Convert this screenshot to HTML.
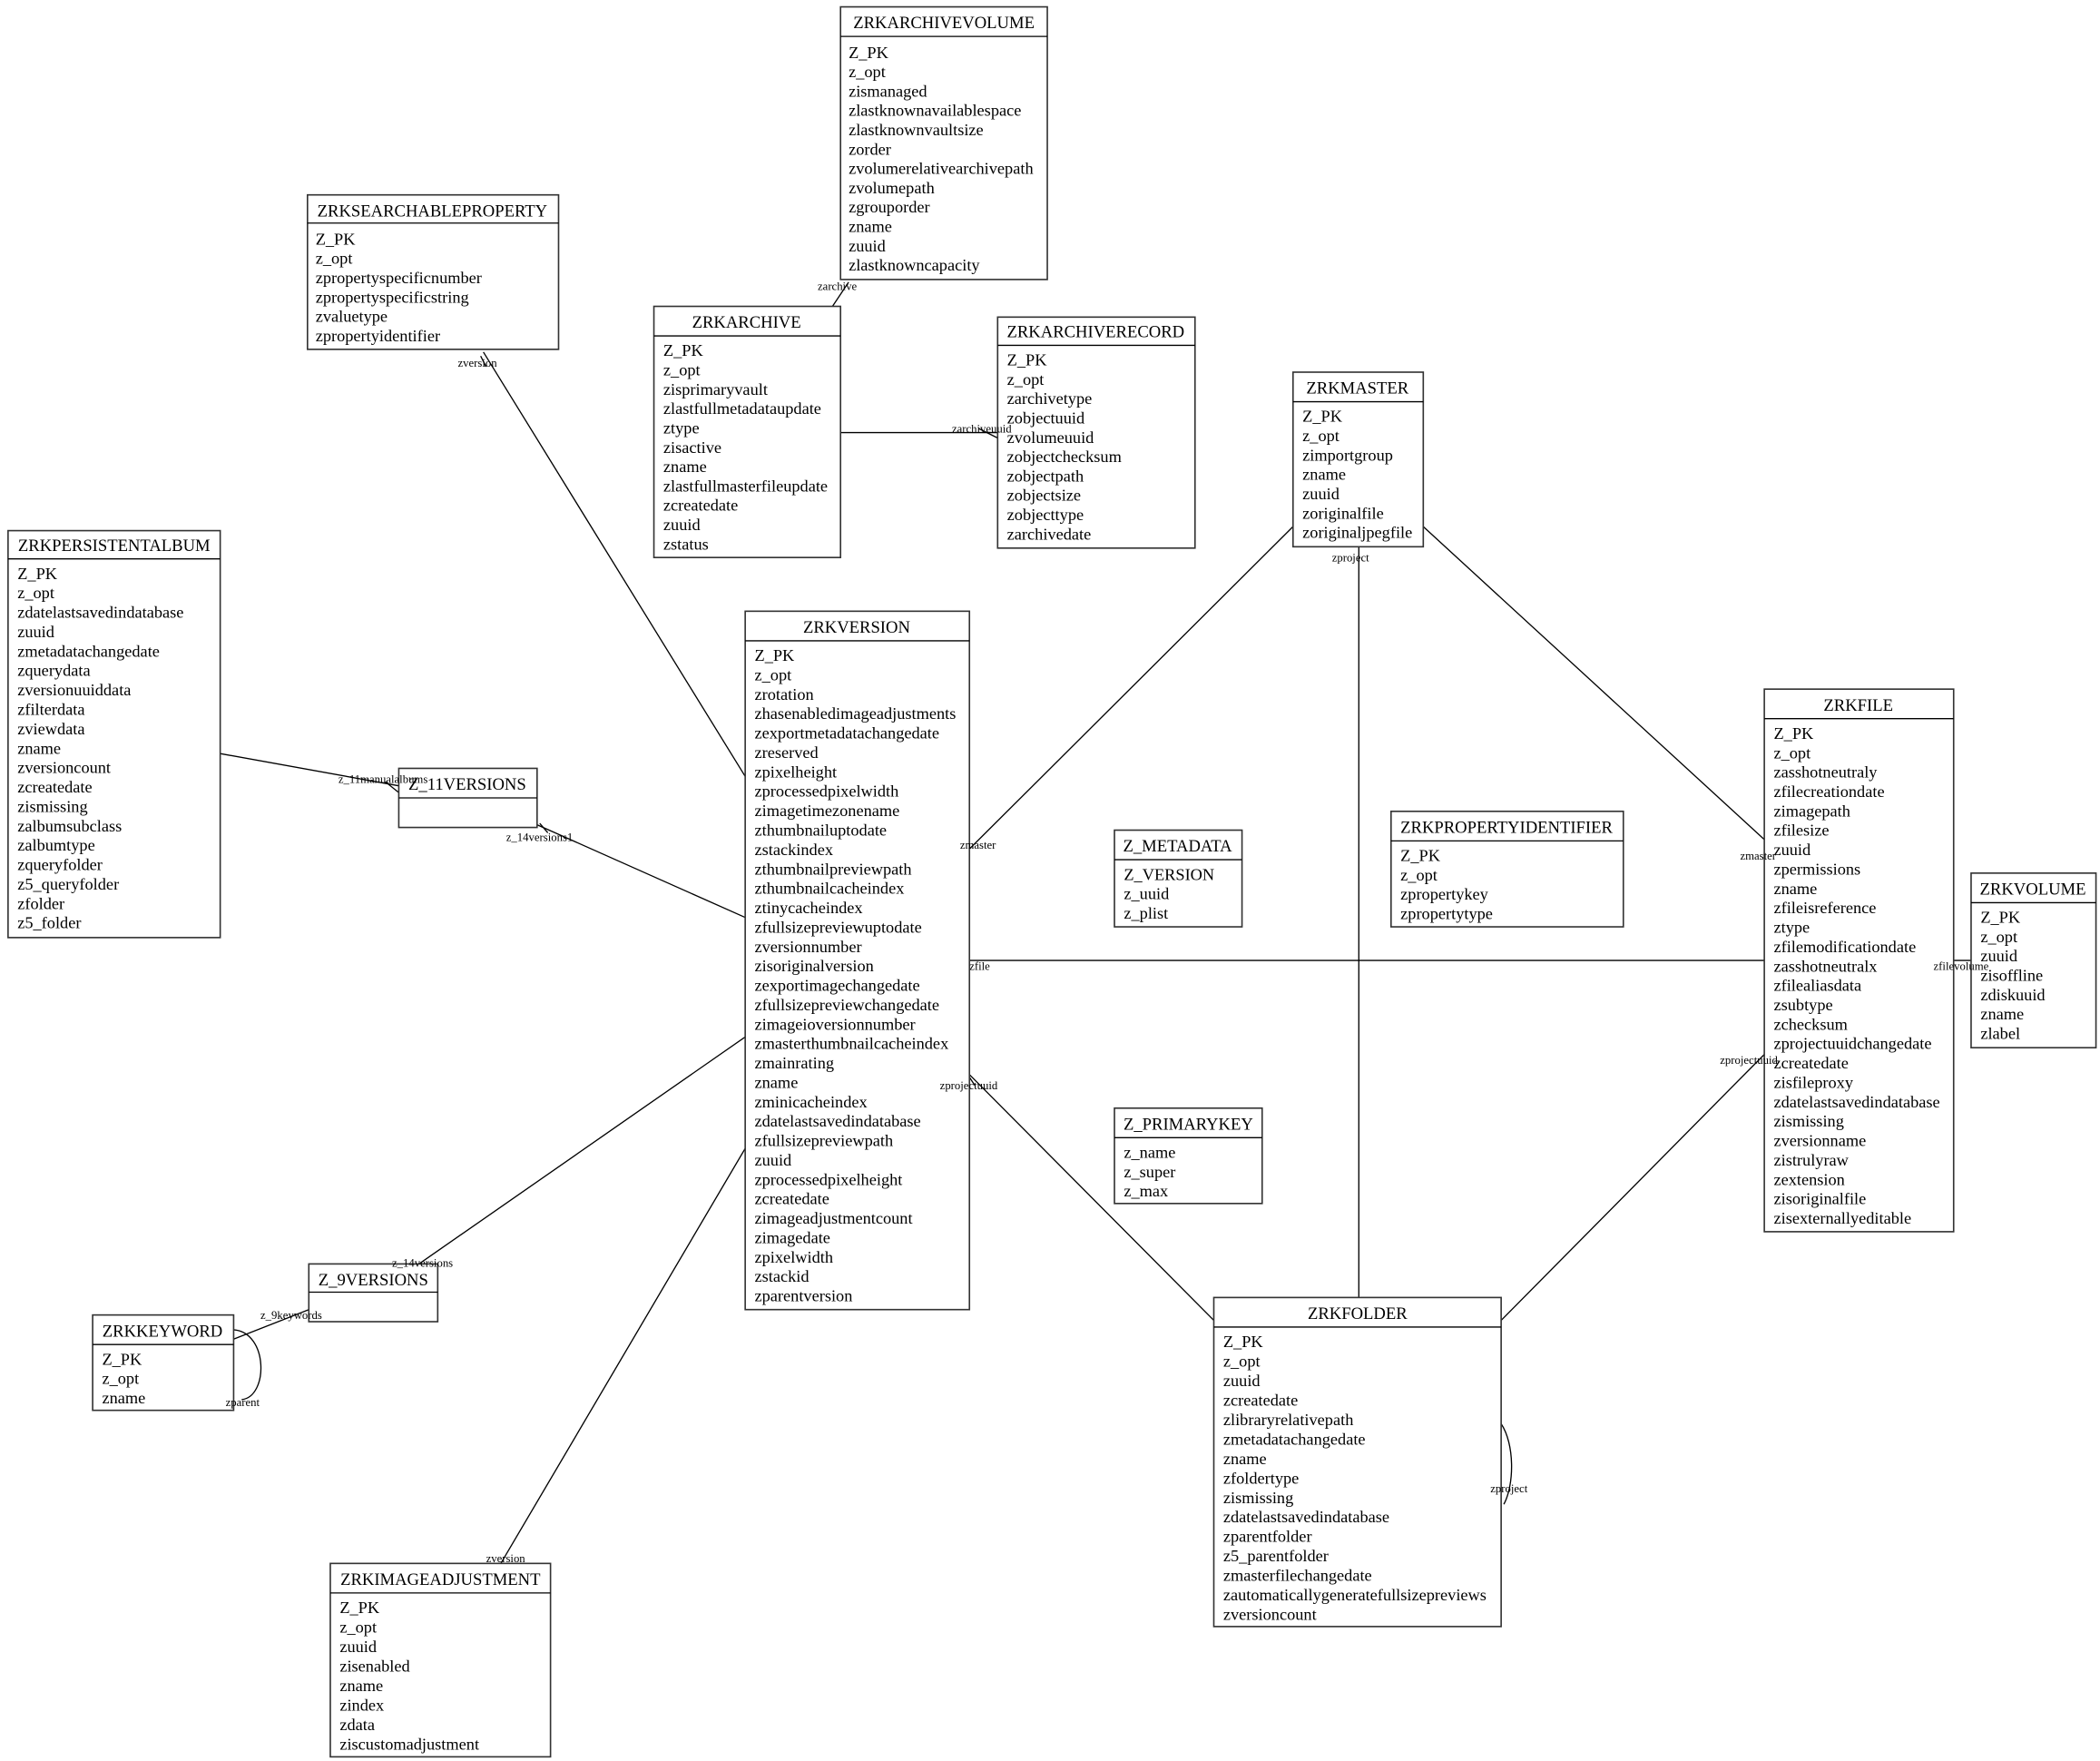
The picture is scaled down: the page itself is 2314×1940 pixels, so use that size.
<!DOCTYPE html>
<html><head><meta charset="utf-8"><style>
html,body{margin:0;padding:0;background:#fff;}
svg{display:block}
text{font-family:"Liberation Serif",serif;fill:#000}
.t{font-size:12.6px}
.f{font-size:12.4px}
.l{font-size:8.6px}
rect{fill:#fff;stroke:#333;stroke-width:1.1}
line,path{stroke:#000;stroke-width:0.9;fill:none}
</style></head><body>
<svg width="2314" height="1940" viewBox="0 0 1564 1311" xmlns="http://www.w3.org/2000/svg">
<!-- connectors -->
<line x1="620" y1="228" x2="632" y2="210"/>
<line x1="626" y1="322" x2="743" y2="322"/>
<line x1="360" y1="262" x2="555" y2="578"/>
<line x1="164" y1="561" x2="297" y2="585"/>
<line x1="400" y1="614" x2="555" y2="683"/>
<line x1="312" y1="941" x2="555" y2="772"/>
<line x1="174" y1="997" x2="230" y2="975"/>
<path d="M174 990 C200 992 200 1040 180 1042"/>
<line x1="373" y1="1164" x2="555" y2="855"/>
<line x1="963" y1="392" x2="722" y2="632"/>
<line x1="1060" y1="392" x2="1314" y2="625"/>
<line x1="1012" y1="407" x2="1012" y2="966"/>
<line x1="1314" y1="715" x2="722" y2="715"/>
<line x1="1455" y1="715" x2="1468" y2="715"/>
<line x1="722" y1="800" x2="904" y2="983"/>
<line x1="1118" y1="983" x2="1314" y2="785"/>
<path d="M1118 1060 C1128 1075 1128 1105 1120 1120"/>
<path d="M729 319 L743 326"/>
<path d="M287 582 L297 590"/>
<path d="M402 613 L408 620"/>
<path d="M358 265 L362 273"/>
<path d="M722 802 L726 808"/>

<!-- ZRKARCHIVEVOLUME -->
<rect x="626" y="5" width="154" height="203"/><line x1="626" y1="27" x2="780" y2="27"/>
<text class="t" x="703" y="21" text-anchor="middle">ZRKARCHIVEVOLUME</text>
<text class="f" y="43"><tspan x="632">Z_PK</tspan><tspan x="632" dy="14.4">z_opt</tspan><tspan x="632" dy="14.4">zismanaged</tspan><tspan x="632" dy="14.4">zlastknownavailablespace</tspan><tspan x="632" dy="14.4">zlastknownvaultsize</tspan><tspan x="632" dy="14.4">zorder</tspan><tspan x="632" dy="14.4">zvolumerelativearchivepath</tspan><tspan x="632" dy="14.4">zvolumepath</tspan><tspan x="632" dy="14.4">zgrouporder</tspan><tspan x="632" dy="14.4">zname</tspan><tspan x="632" dy="14.4">zuuid</tspan><tspan x="632" dy="14.4">zlastknowncapacity</tspan></text>

<!-- ZRKSEARCHABLEPROPERTY -->
<rect x="229" y="145" width="187" height="115"/><line x1="229" y1="166" x2="416" y2="166"/>
<text class="t" x="322" y="161" text-anchor="middle">ZRKSEARCHABLEPROPERTY</text>
<text class="f" y="182"><tspan x="235">Z_PK</tspan><tspan x="235" dy="14.4">z_opt</tspan><tspan x="235" dy="14.4">zpropertyspecificnumber</tspan><tspan x="235" dy="14.4">zpropertyspecificstring</tspan><tspan x="235" dy="14.4">zvaluetype</tspan><tspan x="235" dy="14.4">zpropertyidentifier</tspan></text>

<!-- ZRKARCHIVE -->
<rect x="487" y="228" width="139" height="187"/><line x1="487" y1="250" x2="626" y2="250"/>
<text class="t" x="556" y="244" text-anchor="middle">ZRKARCHIVE</text>
<text class="f" y="265"><tspan x="494">Z_PK</tspan><tspan x="494" dy="14.4">z_opt</tspan><tspan x="494" dy="14.4">zisprimaryvault</tspan><tspan x="494" dy="14.4">zlastfullmetadataupdate</tspan><tspan x="494" dy="14.4">ztype</tspan><tspan x="494" dy="14.4">zisactive</tspan><tspan x="494" dy="14.4">zname</tspan><tspan x="494" dy="14.4">zlastfullmasterfileupdate</tspan><tspan x="494" dy="14.4">zcreatedate</tspan><tspan x="494" dy="14.4">zuuid</tspan><tspan x="494" dy="14.4">zstatus</tspan></text>

<!-- ZRKARCHIVERECORD -->
<rect x="743" y="236" width="147" height="172"/><line x1="743" y1="257" x2="890" y2="257"/>
<text class="t" x="816" y="251" text-anchor="middle">ZRKARCHIVERECORD</text>
<text class="f" y="272"><tspan x="750">Z_PK</tspan><tspan x="750" dy="14.4">z_opt</tspan><tspan x="750" dy="14.4">zarchivetype</tspan><tspan x="750" dy="14.4">zobjectuuid</tspan><tspan x="750" dy="14.4">zvolumeuuid</tspan><tspan x="750" dy="14.4">zobjectchecksum</tspan><tspan x="750" dy="14.4">zobjectpath</tspan><tspan x="750" dy="14.4">zobjectsize</tspan><tspan x="750" dy="14.4">zobjecttype</tspan><tspan x="750" dy="14.4">zarchivedate</tspan></text>

<!-- ZRKMASTER -->
<rect x="963" y="277" width="97" height="130"/><line x1="963" y1="299" x2="1060" y2="299"/>
<text class="t" x="1011" y="293" text-anchor="middle">ZRKMASTER</text>
<text class="f" y="314"><tspan x="970">Z_PK</tspan><tspan x="970" dy="14.4">z_opt</tspan><tspan x="970" dy="14.4">zimportgroup</tspan><tspan x="970" dy="14.4">zname</tspan><tspan x="970" dy="14.4">zuuid</tspan><tspan x="970" dy="14.4">zoriginalfile</tspan><tspan x="970" dy="14.4">zoriginaljpegfile</tspan></text>

<!-- ZRKPERSISTENTALBUM -->
<rect x="6" y="395" width="158" height="303"/><line x1="6" y1="416" x2="164" y2="416"/>
<text class="t" x="85" y="410" text-anchor="middle">ZRKPERSISTENTALBUM</text>
<text class="f" y="431"><tspan x="13">Z_PK</tspan><tspan x="13" dy="14.45">z_opt</tspan><tspan x="13" dy="14.45">zdatelastsavedindatabase</tspan><tspan x="13" dy="14.45">zuuid</tspan><tspan x="13" dy="14.45">zmetadatachangedate</tspan><tspan x="13" dy="14.45">zquerydata</tspan><tspan x="13" dy="14.45">zversionuuiddata</tspan><tspan x="13" dy="14.45">zfilterdata</tspan><tspan x="13" dy="14.45">zviewdata</tspan><tspan x="13" dy="14.45">zname</tspan><tspan x="13" dy="14.45">zversioncount</tspan><tspan x="13" dy="14.45">zcreatedate</tspan><tspan x="13" dy="14.45">zismissing</tspan><tspan x="13" dy="14.45">zalbumsubclass</tspan><tspan x="13" dy="14.45">zalbumtype</tspan><tspan x="13" dy="14.45">zqueryfolder</tspan><tspan x="13" dy="14.45">z5_queryfolder</tspan><tspan x="13" dy="14.45">zfolder</tspan><tspan x="13" dy="14.45">z5_folder</tspan></text>

<!-- Z_11VERSIONS -->
<rect x="297" y="572" width="103" height="44"/><line x1="297" y1="594" x2="400" y2="594"/>
<text class="t" x="348" y="588" text-anchor="middle">Z_11VERSIONS</text>

<!-- ZRKVERSION -->
<rect x="555" y="455" width="167" height="520"/><line x1="555" y1="477" x2="722" y2="477"/>
<text class="t" x="638" y="471" text-anchor="middle">ZRKVERSION</text>
<text class="f" y="492"><tspan x="562">Z_PK</tspan><tspan x="562" dy="14.45">z_opt</tspan><tspan x="562" dy="14.45">zrotation</tspan><tspan x="562" dy="14.45">zhasenabledimageadjustments</tspan><tspan x="562" dy="14.45">zexportmetadatachangedate</tspan><tspan x="562" dy="14.45">zreserved</tspan><tspan x="562" dy="14.45">zpixelheight</tspan><tspan x="562" dy="14.45">zprocessedpixelwidth</tspan><tspan x="562" dy="14.45">zimagetimezonename</tspan><tspan x="562" dy="14.45">zthumbnailuptodate</tspan><tspan x="562" dy="14.45">zstackindex</tspan><tspan x="562" dy="14.45">zthumbnailpreviewpath</tspan><tspan x="562" dy="14.45">zthumbnailcacheindex</tspan><tspan x="562" dy="14.45">ztinycacheindex</tspan><tspan x="562" dy="14.45">zfullsizepreviewuptodate</tspan><tspan x="562" dy="14.45">zversionnumber</tspan><tspan x="562" dy="14.45">zisoriginalversion</tspan><tspan x="562" dy="14.45">zexportimagechangedate</tspan><tspan x="562" dy="14.45">zfullsizepreviewchangedate</tspan><tspan x="562" dy="14.45">zimageioversionnumber</tspan><tspan x="562" dy="14.45">zmasterthumbnailcacheindex</tspan><tspan x="562" dy="14.45">zmainrating</tspan><tspan x="562" dy="14.45">zname</tspan><tspan x="562" dy="14.45">zminicacheindex</tspan><tspan x="562" dy="14.45">zdatelastsavedindatabase</tspan><tspan x="562" dy="14.45">zfullsizepreviewpath</tspan><tspan x="562" dy="14.45">zuuid</tspan><tspan x="562" dy="14.45">zprocessedpixelheight</tspan><tspan x="562" dy="14.45">zcreatedate</tspan><tspan x="562" dy="14.45">zimageadjustmentcount</tspan><tspan x="562" dy="14.45">zimagedate</tspan><tspan x="562" dy="14.45">zpixelwidth</tspan><tspan x="562" dy="14.45">zstackid</tspan><tspan x="562" dy="14.45">zparentversion</tspan></text>

<!-- Z_METADATA -->
<rect x="830" y="618" width="95" height="72"/><line x1="830" y1="640" x2="925" y2="640"/>
<text class="t" x="877" y="634" text-anchor="middle">Z_METADATA</text>
<text class="f" y="655"><tspan x="837">Z_VERSION</tspan><tspan x="837" dy="14.4">z_uuid</tspan><tspan x="837" dy="14.4">z_plist</tspan></text>

<!-- ZRKPROPERTYIDENTIFIER -->
<rect x="1036" y="604" width="173" height="86"/><line x1="1036" y1="626" x2="1209" y2="626"/>
<text class="t" x="1122" y="620" text-anchor="middle">ZRKPROPERTYIDENTIFIER</text>
<text class="f" y="641"><tspan x="1043">Z_PK</tspan><tspan x="1043" dy="14.4">z_opt</tspan><tspan x="1043" dy="14.4">zpropertykey</tspan><tspan x="1043" dy="14.4">zpropertytype</tspan></text>

<!-- ZRKFILE -->
<rect x="1314" y="513" width="141" height="404"/><line x1="1314" y1="535" x2="1455" y2="535"/>
<text class="t" x="1384" y="529" text-anchor="middle">ZRKFILE</text>
<text class="f" y="550"><tspan x="1321">Z_PK</tspan><tspan x="1321" dy="14.44">z_opt</tspan><tspan x="1321" dy="14.44">zasshotneutraly</tspan><tspan x="1321" dy="14.44">zfilecreationdate</tspan><tspan x="1321" dy="14.44">zimagepath</tspan><tspan x="1321" dy="14.44">zfilesize</tspan><tspan x="1321" dy="14.44">zuuid</tspan><tspan x="1321" dy="14.44">zpermissions</tspan><tspan x="1321" dy="14.44">zname</tspan><tspan x="1321" dy="14.44">zfileisreference</tspan><tspan x="1321" dy="14.44">ztype</tspan><tspan x="1321" dy="14.44">zfilemodificationdate</tspan><tspan x="1321" dy="14.44">zasshotneutralx</tspan><tspan x="1321" dy="14.44">zfilealiasdata</tspan><tspan x="1321" dy="14.44">zsubtype</tspan><tspan x="1321" dy="14.44">zchecksum</tspan><tspan x="1321" dy="14.44">zprojectuuidchangedate</tspan><tspan x="1321" dy="14.44">zcreatedate</tspan><tspan x="1321" dy="14.44">zisfileproxy</tspan><tspan x="1321" dy="14.44">zdatelastsavedindatabase</tspan><tspan x="1321" dy="14.44">zismissing</tspan><tspan x="1321" dy="14.44">zversionname</tspan><tspan x="1321" dy="14.44">zistrulyraw</tspan><tspan x="1321" dy="14.44">zextension</tspan><tspan x="1321" dy="14.44">zisoriginalfile</tspan><tspan x="1321" dy="14.44">zisexternallyeditable</tspan></text>

<!-- ZRKVOLUME -->
<rect x="1468" y="650" width="93" height="130"/><line x1="1468" y1="672" x2="1561" y2="672"/>
<text class="t" x="1514" y="666" text-anchor="middle">ZRKVOLUME</text>
<text class="f" y="687"><tspan x="1475">Z_PK</tspan><tspan x="1475" dy="14.4">z_opt</tspan><tspan x="1475" dy="14.4">zuuid</tspan><tspan x="1475" dy="14.4">zisoffline</tspan><tspan x="1475" dy="14.4">zdiskuuid</tspan><tspan x="1475" dy="14.4">zname</tspan><tspan x="1475" dy="14.4">zlabel</tspan></text>

<!-- Z_PRIMARYKEY -->
<rect x="830" y="825" width="110" height="71"/><line x1="830" y1="847" x2="940" y2="847"/>
<text class="t" x="885" y="841" text-anchor="middle">Z_PRIMARYKEY</text>
<text class="f" y="862"><tspan x="837">z_name</tspan><tspan x="837" dy="14.4">z_super</tspan><tspan x="837" dy="14.4">z_max</tspan></text>

<!-- Z_9VERSIONS -->
<rect x="230" y="941" width="96" height="43"/><line x1="230" y1="962" x2="326" y2="962"/>
<text class="t" x="278" y="957" text-anchor="middle">Z_9VERSIONS</text>

<!-- ZRKKEYWORD -->
<rect x="69" y="979" width="105" height="71"/><line x1="69" y1="1001" x2="174" y2="1001"/>
<text class="t" x="121" y="995" text-anchor="middle">ZRKKEYWORD</text>
<text class="f" y="1016"><tspan x="76">Z_PK</tspan><tspan x="76" dy="14.4">z_opt</tspan><tspan x="76" dy="14.4">zname</tspan></text>

<!-- ZRKIMAGEADJUSTMENT -->
<rect x="246" y="1164" width="164" height="144"/><line x1="246" y1="1186" x2="410" y2="1186"/>
<text class="t" x="328" y="1180" text-anchor="middle">ZRKIMAGEADJUSTMENT</text>
<text class="f" y="1201"><tspan x="253">Z_PK</tspan><tspan x="253" dy="14.5">z_opt</tspan><tspan x="253" dy="14.5">zuuid</tspan><tspan x="253" dy="14.5">zisenabled</tspan><tspan x="253" dy="14.5">zname</tspan><tspan x="253" dy="14.5">zindex</tspan><tspan x="253" dy="14.5">zdata</tspan><tspan x="253" dy="14.5">ziscustomadjustment</tspan></text>

<!-- ZRKFOLDER -->
<rect x="904" y="966" width="214" height="245"/><line x1="904" y1="988" x2="1118" y2="988"/>
<text class="t" x="1011" y="982" text-anchor="middle">ZRKFOLDER</text>
<text class="f" y="1003"><tspan x="911">Z_PK</tspan><tspan x="911" dy="14.5">z_opt</tspan><tspan x="911" dy="14.5">zuuid</tspan><tspan x="911" dy="14.5">zcreatedate</tspan><tspan x="911" dy="14.5">zlibraryrelativepath</tspan><tspan x="911" dy="14.5">zmetadatachangedate</tspan><tspan x="911" dy="14.5">zname</tspan><tspan x="911" dy="14.5">zfoldertype</tspan><tspan x="911" dy="14.5">zismissing</tspan><tspan x="911" dy="14.5">zdatelastsavedindatabase</tspan><tspan x="911" dy="14.5">zparentfolder</tspan><tspan x="911" dy="14.5">z5_parentfolder</tspan><tspan x="911" dy="14.5">zmasterfilechangedate</tspan><tspan x="911" dy="14.5">zautomaticallygeneratefullsizepreviews</tspan><tspan x="911" dy="14.5">zversioncount</tspan></text>

<!-- connector labels on top -->
<g class="l">
<text x="609" y="216">zarchive</text>
<text x="709" y="322">zarchiveuuid</text>
<text x="341" y="273">zversion</text>
<text x="252" y="583">z_11manualalbums</text>
<text x="377" y="626">z_14versions1</text>
<text x="292" y="943">z_14versions</text>
<text x="194" y="982">z_9keywords</text>
<text x="168" y="1047">zparent</text>
<text x="362" y="1163">zversion</text>
<text x="715" y="632">zmaster</text>
<text x="1296" y="640">zmaster</text>
<text x="992" y="418">zproject</text>
<text x="722" y="722">zfile</text>
<text x="1440" y="722">zfilevolume</text>
<text x="700" y="811">zprojectuuid</text>
<text x="1281" y="792">zprojectuuid</text>
<text x="1110" y="1111">zproject</text>
</g>
</svg>
</body></html>
